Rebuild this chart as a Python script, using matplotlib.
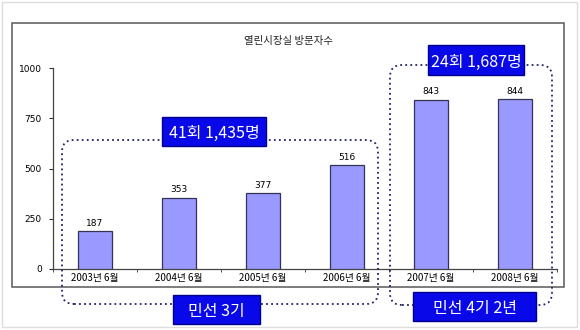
import matplotlib
matplotlib.use("Agg")
import matplotlib.pyplot as plt
from matplotlib.patches import Rectangle, FancyBboxPatch
import numpy as np

plt.rcParams['font.family'] = ['Noto Sans CJK KR', 'DejaVu Sans']

# data
labels = ['2003년 6월', '2004년 6월', '2005년 6월', '2006년 6월', '2007년 6월', '2008년 6월']
visitors = [187, 353, 377, 516, 843, 844]
yticks = [0, 250, 500, 750, 1000]
title = '열린시장실 방문자수'

W, H = 580, 330
fig = plt.figure(figsize=(W / 100, H / 100), dpi=100)


def fx(px):
    return px / W


def fy(py):
    return 1 - py / H


# axes placed in pixel terms (top-left origin)
ax = fig.add_axes([fx(53), fy(269), fx(557) - fx(53), fy(68) - fy(269)])
x = np.arange(len(labels))
ax.bar(x, visitors, width=0.4, color='#9999ff', edgecolor='#333355', linewidth=0.9, zorder=3)
for xi, v in zip(x, visitors):
    ax.text(xi, v + 18, str(v), ha='center', va='bottom', fontsize=6.5, family='DejaVu Sans')

ax.set_xlim(-0.5, len(labels) - 0.5)
ax.set_ylim(0, 1000)
ax.set_yticks(yticks)
ax.set_yticklabels([str(t) for t in yticks], fontsize=6.5, family='DejaVu Sans')
ax.set_xticks(x)
ax.set_xticklabels(labels, fontsize=7)
ax.set_xticks(np.arange(-0.5, len(labels), 1.0), minor=True)
ax.tick_params(axis='x', which='major', length=0, pad=3)
ax.tick_params(axis='x', which='minor', length=2, direction='out', color='#333333')
ax.tick_params(axis='y', length=3, direction='out', color='#333333', pad=5)
for s in ['top', 'right']:
    ax.spines[s].set_visible(False)
for s in ['left', 'bottom']:
    ax.spines[s].set_color('#444444')
    ax.spines[s].set_linewidth(0.9)
ax.patch.set_alpha(0)

# outer borders
fig.patches.append(Rectangle((fx(2), fy(327)), fx(575), fy(2) - fy(327), transform=fig.transFigure,
                             fill=False, edgecolor='#dddddd', linewidth=1))
fig.patches.append(Rectangle((fx(12), fy(287)), fx(552), fy(23) - fy(287), transform=fig.transFigure,
                             fill=False, edgecolor='#666666', linewidth=1.2))

fig.text(fx(289), fy(41), title, ha='center', va='center', fontsize=7.5, color='#222222')


# dotted rounded group boxes, in display pixels
def group_box(x0, y0, x1, y1):
    p = FancyBboxPatch((x0, H - y1), x1 - x0, y1 - y0, boxstyle='round,pad=0,rounding_size=12',
                       transform=None, fill=False, edgecolor='#222266', linewidth=1.3,
                       linestyle=(0, (1, 1.8)), zorder=5)
    fig.patches.append(p)


group_box(62, 140, 378, 304)
group_box(390, 65, 552, 305)


def tag(x0, y0, x1, y1, s):
    r = Rectangle((x0, H - y1), x1 - x0, y1 - y0, transform=None, facecolor='#0808e8',
                  edgecolor='#000088', linewidth=1, zorder=9)
    fig.patches.append(r)
    fig.text(fx((x0 + x1) / 2), fy((y0 + y1) / 2), s, ha='center', va='center_baseline',
             fontsize=11.5, color='white', zorder=10)


tag(162, 117, 266, 146, '41회 1,435명')
tag(428, 45, 524, 75, '24회 1,687명')
tag(173, 295, 260, 324, '민선 3기')
tag(413, 292, 536, 321, '민선 4기 2년')

fig.savefig('out.png', dpi=100)
